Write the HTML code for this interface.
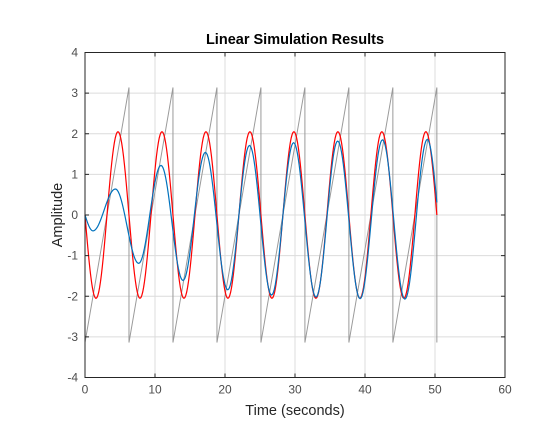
<!DOCTYPE html>
<html><head><meta charset="utf-8"><style>
html,body{margin:0;padding:0;background:#fff;}
svg{display:block;font-family:"Liberation Sans",Arial,sans-serif;}
</style></head><body>
<svg id="chart" width="560" height="424" viewBox="0 0 560 424">
<rect x="0" y="0" width="560" height="424" fill="#fff"/>
<rect x="85" y="52.5" width="420" height="325" fill="#fff"/>
<g id="grid"></g>
<g id="series"></g>
<g id="axes"></g>
<text x="295" y="44" text-anchor="middle" font-size="14.5" font-weight="bold" fill="#000">Linear Simulation Results</text>
<text x="295" y="415" text-anchor="middle" font-size="14.5" fill="#262626">Time (seconds)</text>
<text x="62" y="215" text-anchor="middle" font-size="14.5" fill="#262626" transform="rotate(-90 62 215)">Amplitude</text>
</svg>
<script>
const xTicks = [0,10,20,30,40,50,60];
const yTicks = [-4,-3,-2,-1,0,1,2,3,4];
const sawTimes = [0,6.283,6.283,12.566,12.566,18.85,18.85,25.133,25.133,31.416,31.416,37.699,37.699,43.982,43.982,50.265,50.265];
const sawValues = [-3.14,3.14,-3.14,3.14,-3.14,3.14,-3.14,3.14,-3.14,3.14,-3.14,3.14,-3.14,3.14,-3.14,3.14,-3.14];
const redTimes = [0,1.571,4.712,7.854,10.996,14.137,17.279,20.42,23.562,26.704,29.845,32.987,36.128,39.27,42.412,45.553,48.695,50.265];
const redValues = [0,-2.05,2.05,-2.05,2.05,-2.05,2.05,-2.05,2.05,-2.05,2.05,-2.05,2.05,-2.05,2.05,-2.05,2.05,0];
const blueTimes = [0,1.14,4.34,7.67,10.86,14.0,17.2,20.4,23.5,26.65,29.8,33.0,36.1,39.3,42.5,45.7,48.9,50.265];
const blueValues = [0,-0.39,0.64,-1.19,1.22,-1.61,1.54,-1.84,1.71,-1.97,1.78,-2.02,1.82,-2.06,1.85,-2.07,1.86,0.31];

const X0=85, X1=505, Y0=377.5, Y1=52.5;
const xs = t => X0 + (t-0)/(60-0)*(X1-X0);
const ys = v => Y0 - (v+4)/8*(Y0-Y1);
const NS="http://www.w3.org/2000/svg";
function mk(tag, attrs, parent){const e=document.createElementNS(NS,tag);for(const k in attrs)e.setAttribute(k,attrs[k]);parent.appendChild(e);return e;}

const grid=document.getElementById('grid'), axes=document.getElementById('axes'), series=document.getElementById('series');
xTicks.forEach(t=>{
  const g=mk('line',{x1:xs(t),x2:xs(t),y1:Y1,y2:Y0,stroke:'#dcdcdc','stroke-width':1},grid);
  
  
  const tk=mk('line',{x1:xs(t),x2:xs(t),y1:Y0,y2:Y0-4,stroke:'#262626','stroke-width':1},axes);
  
  
  const tk2=mk('line',{x1:xs(t),x2:xs(t),y1:Y1,y2:Y1+4,stroke:'#262626','stroke-width':1},axes);
  
  
  const lb=mk('text',{x:xs(t),y:Y0+16,'text-anchor':'middle','font-size':12,fill:'#4d4d4d'},axes);
  lb.textContent=t;
  
  
});
yTicks.forEach(v=>{
  const g=mk('line',{x1:X0,x2:X1,y1:ys(v),y2:ys(v),stroke:'#dcdcdc','stroke-width':1},grid);
  
  
  const tk=mk('line',{x1:X0,x2:X0+4,y1:ys(v),y2:ys(v),stroke:'#262626','stroke-width':1},axes);
  
  
  const tk2=mk('line',{x1:X1,x2:X1-4,y1:ys(v),y2:ys(v),stroke:'#262626','stroke-width':1},axes);
  
  
  const lb=mk('text',{x:X0-7,y:ys(v)+4,'text-anchor':'end','font-size':12,fill:'#4d4d4d'},axes);
  lb.textContent=v;
  
  
});
const box=mk('rect',{x:X0,y:Y1,width:X1-X0,height:Y0-Y1,fill:'none',stroke:'#262626','stroke-width':1},axes);



let d='';
sawTimes.forEach((t,i)=>{d+=(i?'L':'M')+xs(t).toFixed(2)+' '+ys(sawValues[i]).toFixed(2);});
const saw=mk('path',{d:d,fill:'none',stroke:'#9a9a9a','stroke-width':1},series);



function curve(T,V){
  let p='M'+xs(T[0]).toFixed(2)+' '+ys(V[0]).toFixed(2);
  const n=T.length;
  for(let i=0;i<n-1;i++){
    const a=V[i],b=V[i+1],ta=T[i],tb=T[i+1];
    for(let k=1;k<=24;k++){
      const s=k/24;let f;
      if(i===0) f=Math.sin(Math.PI/2*s);
      else if(i===n-2) f=1-Math.cos(Math.PI/2*s);
      else f=(1-Math.cos(Math.PI*s))/2;
      p+='L'+xs(ta+(tb-ta)*s).toFixed(2)+' '+ys(a+(b-a)*f).toFixed(2);
    }
  }
  return p;
}
const red=mk('path',{d:curve(redTimes,redValues),fill:'none',stroke:'#ff0000','stroke-width':1.2},series);


const blue=mk('path',{d:curve(blueTimes,blueValues),fill:'none',stroke:'#0072bd','stroke-width':1.2},series);


</script>
</body></html>
